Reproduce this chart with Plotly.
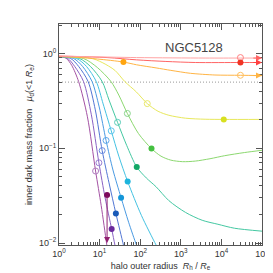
import plotly.graph_objects as go

# ---- data (log10 of R_h/R_e, log10 of mu_d) ----
c1_lx = [0, 0.169, 0.314, 0.483, 0.700, 0.901, 1.039, 1.171, 1.208]
c1_ly = [-0.031, -0.047, -0.125, -0.295, -0.667, -1.240, -1.604, -2.0, -2.104]
c2_lx = [0, 0.217, 0.386, 0.604, 0.797, 0.983, 1.135, 1.297, 1.377, 1.425]
c2_ly = [-0.031, -0.052, -0.135, -0.295, -0.646, -1.153, -1.521, -1.851, -2.021, -2.125]
c3_lx = [0, 0.290, 0.483, 0.717, 0.894, 1.063, 1.232, 1.401, 1.587, 1.643]
c3_ly = [-0.031, -0.052, -0.135, -0.295, -0.594, -1.024, -1.365, -1.688, -2.021, -2.125]
c4_lx = [0, 0.362, 0.580, 0.814, 0.990, 1.159, 1.329, 1.529, 1.715, 1.908, 2.005]
c4_ly = [-0.031, -0.052, -0.135, -0.295, -0.563, -0.917, -1.229, -1.521, -1.781, -2.021, -2.125]
c5_lx = [0, 0.435, 0.676, 0.918, 1.087, 1.287, 1.473, 1.691, 2.029, 2.391, 2.536]
c5_ly = [-0.031, -0.052, -0.135, -0.295, -0.531, -0.816, -1.083, -1.351, -1.708, -2.021, -2.135]
c6_lx = [0, 0.507, 0.773, 1.063, 1.232, 1.442, 1.667, 1.915, 2.150, 2.391, 2.705, 3.116, 3.527, 3.913, 4.324, 5.0]
c6_ly = [-0.031, -0.052, -0.135, -0.295, -0.490, -0.726, -0.969, -1.198, -1.313, -1.406, -1.552, -1.677, -1.760, -1.802, -1.844, -1.875]
c7_lx = [0, 0.604, 0.942, 1.280, 1.473, 1.684, 1.957, 2.278, 2.512, 2.754, 3.043, 3.357, 3.720, 4.082, 4.565, 5.0]
c7_ly = [-0.031, -0.052, -0.146, -0.295, -0.438, -0.632, -0.844, -1.003, -1.083, -1.125, -1.141, -1.135, -1.110, -1.078, -1.045, -1.021]
c8_lx = [0, 0.773, 1.063, 1.377, 1.620, 1.908, 2.174, 2.440, 2.705, 3.116, 3.599, 4.058, 5.0]
c8_ly = [-0.031, -0.047, -0.094, -0.177, -0.295, -0.406, -0.528, -0.609, -0.651, -0.682, -0.693, -0.695, -0.695]
c9_lx = [0, 0.459, 0.942, 1.587, 1.908, 2.391, 2.754, 3.237, 3.841, 4.469, 5.0]
c9_ly = [-0.031, -0.040, -0.057, -0.089, -0.118, -0.151, -0.177, -0.208, -0.226, -0.229, -0.232]
c10_lx = [0, 1.184, 1.908, 2.633, 3.357, 4.469, 5.0]
c10_ly = [-0.026, -0.042, -0.066, -0.083, -0.094, -0.094, -0.094]
c11_lx = [0, 1.908, 3.599, 4.469, 5.0]
c11_ly = [-0.026, -0.042, -0.047, -0.047, -0.047]

curves = [
    (c1_lx, c1_ly, "#a452a4"),
    (c2_lx, c2_ly, "#8a62c4"),
    (c3_lx, c3_ly, "#5276d4"),
    (c4_lx, c4_ly, "#4a9ae2"),
    (c5_lx, c5_ly, "#44c2e2"),
    (c6_lx, c6_ly, "#44c8a2"),
    (c7_lx, c7_ly, "#8cd870"),
    (c8_lx, c8_ly, "#e8e85c"),
    (c9_lx, c9_ly, "#ffb444"),
    (c10_lx, c10_ly, "#ff6464"),
    (c11_lx, c11_ly, "#ffa4a4"),
]

open_lx = [0.901, 0.983, 1.063, 1.159, 1.287, 1.442, 1.684, 2.174, 4.469, 4.469]
open_ly = [-1.240, -1.153, -1.024, -0.917, -0.816, -0.726, -0.632, -0.528, -0.229, -0.042]
open_col = ["#b07cc0", "#9a80d4", "#6c8ee2", "#5ea8ea", "#5ec6ee", "#58ccb8", "#88d48c",
            "#e8e86c", "#ffc060", "#ff8080"]

fill_lx = [1.184, 1.297, 1.401, 1.529, 1.691, 1.915, 2.278, 4.058, 1.587, 4.469]
fill_ly = [-1.493, -1.851, -1.688, -1.521, -1.351, -1.198, -1.003, -0.695, -0.089, -0.094]
fill_col = ["#7c0a5c", "#6a2a9c", "#1a5ab8", "#1496d8", "#1cb4dc", "#12a866", "#44c040",
            "#d8e020", "#ffa510", "#f03424"]

arrow_right_ly = [-0.047, -0.094, -0.232]
arrow_right_col = ["#ff6464", "#ff4040", "#ffb444"]

x_tickvals = [1, 10, 100, 1e3, 1e4, 1e5]
x_ticktext = ["10<sup>0</sup>", "10<sup>1</sup>", "10<sup>2</sup>", "10<sup>3</sup>",
              "10<sup>4</sup>", "10<sup>5</sup>"]
y_tickvals = [0.01, 0.1, 1]
y_ticktext = ["10<sup>−2</sup>", "10<sup>−1</sup>", "10<sup>0</sup>"]

FONT = "Liberation Sans, Arial, sans-serif"

fig = go.Figure()

# reference line at 0.5
fig.add_trace(go.Scatter(x=[1, 1e5], y=[0.5, 0.5], mode="lines",
                         line=dict(color="#999999", width=1, dash="1px,2px"),
                         hoverinfo="skip", showlegend=False))

for lx, ly, col in curves:
    fig.add_trace(go.Scatter(x=[10 ** v for v in lx], y=[10 ** v for v in ly],
                             mode="lines",
                             line=dict(color=col, width=1, shape="spline", smoothing=0.8),
                             showlegend=False))

fig.add_trace(go.Scatter(x=[10 ** v for v in open_lx], y=[10 ** v for v in open_ly],
                         mode="markers",
                         marker=dict(symbol="circle-open", size=6, color=open_col,
                                     line=dict(width=1, color=open_col)),
                         showlegend=False))
fig.add_trace(go.Scatter(x=[10 ** v for v in fill_lx], y=[10 ** v for v in fill_ly],
                         mode="markers",
                         marker=dict(symbol="circle", size=6, color=fill_col),
                         showlegend=False))

annotations = []
for ly, col in zip(arrow_right_ly, arrow_right_col):
    annotations.append(dict(x=5.0, y=ly, ax=4.75, ay=ly, xref="x", yref="y",
                            axref="x", ayref="y", showarrow=True, arrowhead=2,
                            arrowsize=1.2, arrowwidth=1, arrowcolor=col, text=""))
annotations.append(dict(x=fill_lx[0], y=-2.0, ax=fill_lx[0], ay=fill_ly[0], xref="x", yref="y",
                        axref="x", ayref="y", showarrow=True, arrowhead=2,
                        arrowsize=1.2, arrowwidth=1, arrowcolor="#902070", text=""))
annotations.append(dict(x=0.82, y=0.935, xref="paper", yref="paper", text="NGC5128",
                        showarrow=False, font=dict(size=13, color="#444444", family=FONT)))

axis_common = dict(type="log", showline=True, linecolor="#555555", linewidth=1, mirror="allticks",
                   ticks="inside", ticklen=6, tickcolor="#555555", showgrid=False, zeroline=False,
                   tickmode="array",
                   minor=dict(ticks="inside", ticklen=3, tickcolor="#555555", dtick="D1", showgrid=False),
                   tickfont=dict(size=9, color="#333333", family=FONT))

fig.update_layout(
    width=273, height=273,
    margin=dict(l=51, r=15, t=16, b=33),
    paper_bgcolor="white", plot_bgcolor="white",
    annotations=annotations,
    xaxis=dict(axis_common, range=[0, 5], tickvals=x_tickvals, ticktext=x_ticktext,
               title=dict(text="halo outer radius  <i>R</i><sub>h</sub> / <i>R</i><sub>e</sub>",
                          font=dict(size=9, color="#333333", family=FONT), standoff=4)),
    yaxis=dict(axis_common, range=[-2.021, 0.3125], tickvals=y_tickvals, ticktext=y_ticktext,
               title=dict(text="inner dark mass fraction   <i>μ</i><sub>d</sub>(<1 <i>R</i><sub>e</sub>)",
                          font=dict(size=9, color="#333333", family=FONT), standoff=4)),
)

fig.write_html("out.html")
